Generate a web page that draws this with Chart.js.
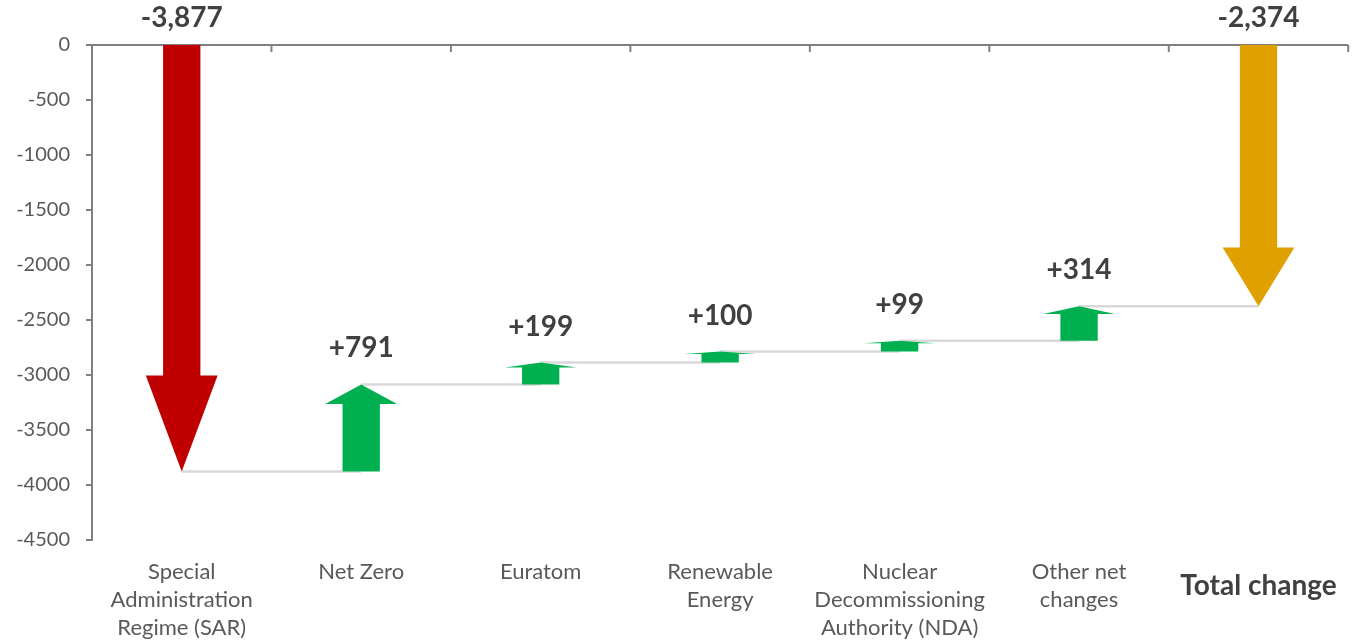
<!DOCTYPE html>
<html>
<head>
<meta charset="utf-8">
<script src="https://cdn.jsdelivr.net/npm/chart.js@4"></script>
<style>
    body { margin: 0; background: #fff; }
    #wrap { width: 1355px; height: 642px; }
</style>
</head>
<body>
<div id="wrap"><canvas id="waterfall"></canvas></div>
<script>
// Data
const categories = [
    ['Special', 'Administration', 'Regime (SAR)'],
    'Net Zero',
    'Euratom',
    ['Renewable', 'Energy'],
    ['Nuclear', 'Decommissioning', 'Authority (NDA)'],
    ['Other net', 'changes'],
    'Total change'
];
const changes = [-3877, 791, 199, 100, 99, 314];
const totalChange = -2374;
const valueLabels = ['-3,877', '+791', '+199', '+100', '+99', '+314', '-2,374'];
const yMin = -4500;
const yMax = 0;
const yStep = 500;

// Colours
const arrowColors = ['#C00000', '#00B050', '#00B050', '#00B050', '#00B050', '#00B050', '#E0A000'];
const axisColor = '#808080';
const connectorColor = '#D9D9D9';
const labelColor = '#404040';
const tickColor = '#595959';
const fontFamily = 'Lato, "Open Sans", sans-serif';

// Running start / end of each step
const starts = [];
const ends = [];
let running = 0;
changes.forEach(c => {
    starts.push(running);
    running += c;
    ends.push(running);
});
starts.push(0);
ends.push(totalChange);

const arrowPlugin = {
    id: 'arrows',
    beforeDatasetsDraw(chart) {
        const ctx = chart.ctx;
        const xs = chart.scales.x;
        const ys = chart.scales.y;
        ctx.save();
        // connector lines between arrow tips
        ctx.strokeStyle = connectorColor;
        ctx.lineWidth = 2.5;
        for (let i = 0; i < categories.length - 1; i++) {
            const y = ys.getPixelForValue(ends[i]);
            ctx.beginPath();
            ctx.moveTo(xs.getPixelForValue(i), y);
            ctx.lineTo(xs.getPixelForValue(i + 1), y);
            ctx.stroke();
        }
        // zero line at top with small ticks between categories
        const zero = ys.getPixelForValue(0);
        const half = (xs.getPixelForValue(1) - xs.getPixelForValue(0)) / 2;
        ctx.strokeStyle = axisColor;
        ctx.lineWidth = 2;
        ctx.beginPath();
        ctx.moveTo(chart.chartArea.left, zero);
        ctx.lineTo(chart.chartArea.right, zero);
        for (let i = 0; i < categories.length; i++) {
            const bx = xs.getPixelForValue(i) + half;
            ctx.moveTo(bx, zero);
            ctx.lineTo(bx, zero + 7);
        }
        ctx.stroke();
        ctx.restore();
    },
    afterDatasetsDraw(chart) {
        const ctx = chart.ctx;
        const ys = chart.scales.y;
        const meta = chart.getDatasetMeta(0);
        ctx.save();
        meta.data.forEach((el, i) => {
            const x = el.x;
            const from = ys.getPixelForValue(starts[i]);
            const to = ys.getPixelForValue(ends[i]);
            const dir = to > from ? 1 : -1;
            const len = Math.abs(to - from);
            const headLen = len * 0.225;
            const headHalf = el.width / 2;
            const shaftHalf = el.width * 0.26;
            const neck = to - dir * headLen;

            ctx.fillStyle = arrowColors[i];
            ctx.beginPath();
            ctx.moveTo(x - shaftHalf, from);
            ctx.lineTo(x + shaftHalf, from);
            ctx.lineTo(x + shaftHalf, neck);
            ctx.lineTo(x + headHalf, neck);
            ctx.lineTo(x, to);
            ctx.lineTo(x - headHalf, neck);
            ctx.lineTo(x - shaftHalf, neck);
            ctx.closePath();
            ctx.fill();

            // value label above the arrow
            const top = Math.min(from, to);
            const offset = dir > 0 ? 27 : 36;
            ctx.fillStyle = labelColor;
            ctx.font = 'bold 28px ' + fontFamily;
            ctx.textAlign = 'center';
            ctx.textBaseline = 'middle';
            ctx.fillText(valueLabels[i], x, top - offset);
        });
        ctx.restore();
    }
};

const ctx = document.getElementById('waterfall').getContext('2d');
new Chart(ctx, {
    type: 'bar',
    data: {
        labels: categories,
        datasets: [{
            data: categories.map((c, i) => [starts[i], ends[i]]),
            backgroundColor: 'rgba(0,0,0,0)',
            categoryPercentage: 1,
            barPercentage: 0.4
        }]
    },
    options: {
        responsive: true,
        maintainAspectRatio: false,
        animation: false,
        layout: {
            padding: { top: 45, right: 4, left: 0, bottom: 0 }
        },
        plugins: {
            legend: { display: false },
            tooltip: { enabled: false }
        },
        scales: {
            x: {
                grid: { display: false, drawTicks: false },
                border: { display: false },
                ticks: {
                    autoSkip: false,
                    maxRotation: 0,
                    padding: 18,
                    color: c => c.index === 6 ? labelColor : tickColor,
                    font: c => c.index === 6
                        ? { family: fontFamily, size: 28, weight: 'bold', lineHeight: 2 }
                        : { family: fontFamily, size: 22, lineHeight: 1.28 }
                },
                afterFit(scale) {
                    scale.height = 102;
                }
            },
            y: {
                min: yMin,
                max: yMax,
                ticks: {
                    stepSize: yStep,
                    padding: 16,
                    color: tickColor,
                    font: { family: fontFamily, size: 20 },
                    callback: v => String(v)
                },
                grid: {
                    drawOnChartArea: false,
                    tickLength: 6,
                    color: axisColor,
                    lineWidth: 2
                },
                border: { color: axisColor, width: 2 },
                afterFit(scale) {
                    scale.width = 92;
                }
            }
        }
    },
    plugins: [arrowPlugin]
});
</script>
</body>
</html>
